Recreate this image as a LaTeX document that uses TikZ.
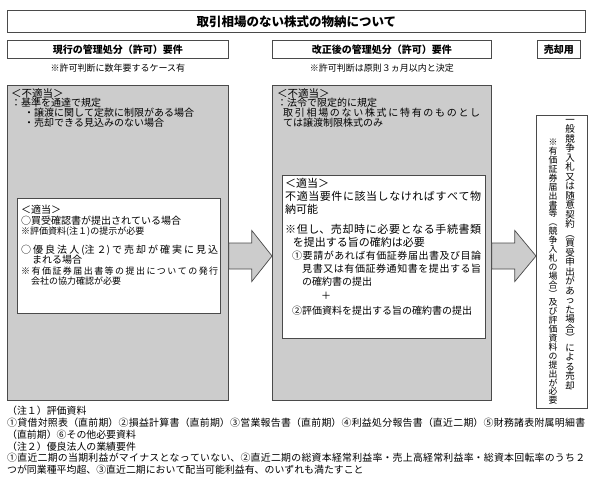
\documentclass[tikz,border=0pt]{standalone}
\usepackage{fontspec}
\setmainfont{Noto Sans CJK JP}
\usetikzlibrary{positioning,calc}
\definecolor{boxgrey}{HTML}{CCCCCC}
\definecolor{edgegrey}{HTML}{4A4A4A}
\setlength{\parindent}{0pt}
\setlength{\parskip}{0pt}
\XeTeXlinebreaklocale "ja"
\XeTeXlinebreakskip=0pt plus 3pt
\ExplSyntaxOn
\NewDocumentCommand\tatetext{m}{\lineskiplimit=-\maxdimen \tl_map_inline:nn{#1}{##1\par}}
\ExplSyntaxOff

\begin{document}
\begin{tikzpicture}[x=1pt, y=-1pt,
  titlebox/.style={draw=edgegrey, line width=0.8pt, inner sep=0pt, font=\fontsize{12.5}{14}\selectfont\bfseries},
  headbox/.style={draw=edgegrey, line width=0.7pt, inner sep=0pt, minimum height=18pt, font=\fontsize{10}{12}\selectfont\bfseries},
  notetext/.style={inner sep=0pt, font=\fontsize{9}{10}\selectfont},
  greybox/.style={draw=edgegrey, line width=0.8pt, fill=boxgrey, inner sep=0pt},
  whitebox/.style={draw=edgegrey, line width=0.7pt, fill=white, inner sep=0pt},
  greytext/.style={inner sep=0pt, anchor=north west, align=justify, font=\fontsize{10}{9.8}\selectfont},
  lefttext/.style={inner sep=0pt, anchor=north west, align=justify, font=\fontsize{10}{10.5}\selectfont},
  midtext/.style={inner sep=0pt, anchor=north west, align=justify, font=\fontsize{11}{12.8}\selectfont},
  foottext/.style={inner sep=0pt, anchor=north west, align=justify, font=\fontsize{9.9}{11.8}\selectfont},
  tate/.style={inner sep=0pt, anchor=north, text width=10pt, align=center},
  blockarrow/.style={draw=edgegrey, line width=0.7pt, fill=boxgrey, line join=miter}
]
  \path[use as bounding box, fill=white] (0,0) rectangle (591,483);

  % title and column heads
  \node[titlebox, minimum width=578pt, minimum height=22pt, anchor=north west] (title) at (7,10) {取引相場のない株式の物納について};
  \node[headbox, minimum width=221pt, anchor=north west] (curhead) at (7,40) {現行の管理処分（許可）要件};
  \node[headbox, minimum width=219pt, anchor=north west] (revhead) at (272,40) {改正後の管理処分（許可）要件};
  \node[headbox, minimum width=43pt, anchor=north west] (sellhead) at (537,40) {売却用};
  \node[notetext, below=5pt of curhead] (curnote) {※許可判断に数年要するケース有};
  \node[notetext, below=5pt of revhead] (revnote) {※許可判断は原則３ヵ月以内と決定};

  % grey columns
  \node[greybox, minimum width=221pt, minimum height=315pt, anchor=north west] (lgrey) at (7,85) {};
  \node[greybox, minimum width=219pt, minimum height=315pt, anchor=north west] (mgrey) at (272,85) {};
  \node[whitebox, minimum width=203pt, minimum height=115pt, anchor=north west] (lgood) at (17,198) {};
  \node[whitebox, minimum width=203pt, minimum height=163pt, anchor=north west] (mgood) at (282,175) {};
  \node[whitebox, minimum width=51pt, minimum height=293pt, anchor=north west] (sellbox) at (536,115) {};

  % texts in the columns
  \node[greytext, text width=205pt] (lbad) at ([shift={(4,3)}]lgrey.north west)
    {{\fontsize{10.5}{10}\selectfont ＜不適当＞}\\
     ：基準を通達で規定\\
     \hspace*{1.3em}・譲渡に関して定款に制限がある場合\\
     \hspace*{1.3em}・売却できる見込みのない場合};
  \node[greytext, text width=203pt] (mbad) at ([shift={(5,3)}]mgrey.north west)
    {{\fontsize{10.5}{10}\selectfont ＜不適当＞}\\
     ：法令で限定的に規定\\
     \hspace*{0.6em}取引相場のない株式に特有のものとし\linebreak
     \hspace*{0.6em}ては譲渡制限株式のみ};
  \node[lefttext, text width=197pt] (lgoodtext) at ([shift={(4,7)}]lgood.north west)
    {＜適当＞\\
     ○買受確認書が提出されている場合\\
     {\fontsize{9}{10.5}\selectfont ※評価資料(注１)の提示が必要}\\[8pt]
     ○優良法人(注２)で売却が確実に見込\linebreak
     \hspace*{1.1em}まれる場合\\
     {\fontsize{9}{10.5}\selectfont ※有価証券届出書等の提出についての発行\linebreak
     \hspace*{1.1em}会社の協力確認が必要}};
  \node[midtext, text width=196pt] (mgoodtext) at ([shift={(3,3)}]mgood.north west)
    {＜適当＞\\
     不適当要件に該当しなければすべて物\linebreak
     納可能\\[8pt]
     ※但し、売却時に必要となる手続書類\linebreak
     \hspace*{0.7em}を提出する旨の確約は必要\\
     {\fontsize{10}{12.8}\selectfont \hspace*{0.7em}①要請があれば有価証券届出書及び目論\linebreak
     \hspace*{1.7em}見書又は有価証券通知書を提出する旨\linebreak
     \hspace*{1.7em}の確約書の提出\\[2pt]
     \hspace*{3.6em}＋\\[2pt]
     \hspace*{0.7em}②評価資料を提出する旨の確約書の提出}};
  \node[tate, font=\fontsize{9.5}{9.5}\selectfont] (sellmain) at ([shift={(34,4)}]sellbox.north west)
    {\tatetext{一般競争入札又は随意契約︵買受申出があった場合︶による売却}};
  \node[tate, font=\fontsize{8.9}{8.9}\selectfont] (sellnote) at ([shift={(17,24)}]sellbox.north west)
    {\tatetext{※有価証券届出書等︵競争入札の場合︶及び評価資料の提出が必要}};

  % block arrows between the columns
  \coordinate (arrowrow) at (0,256);
  \draw[blockarrow] ($(lgrey.east |- arrowrow)+(0,-13)$) -- ++(23,0) -- ++(0,-12.5)
    -- (mgrey.west |- arrowrow) -- ($(lgrey.east |- arrowrow)+(23,25.5)$) -- ++(0,-12.5)
    -- ($(lgrey.east |- arrowrow)+(0,13)$) -- cycle;
  \draw[blockarrow] ($(mgrey.east |- arrowrow)+(0,-13)$) -- ++(23,0) -- ++(0,-12.5)
    -- (sellbox.west |- arrowrow) -- ($(mgrey.east |- arrowrow)+(23,25.5)$) -- ++(0,-12.5)
    -- ($(mgrey.east |- arrowrow)+(0,13)$) -- cycle;

  % notes below
  \node[foottext, text width=578pt] (footnotes) at (7,406)
    {（注１）評価資料\\
     ①貸借対照表（直前期）②損益計算書（直前期）③営業報告書（直前期）④利益処分報告書（直近二期）⑤財務諸表附属明細書\linebreak
     （直前期）⑥その他必要資料\\
     （注２）優良法人の業績要件\\
     ①直近二期の当期利益がマイナスとなっていない、②直近二期の総資本経常利益率・売上高経常利益率・総資本回転率のうち２\linebreak
     つが同業種平均超、③直近二期において配当可能利益有、のいずれも満たすこと};
\end{tikzpicture}
\end{document}
